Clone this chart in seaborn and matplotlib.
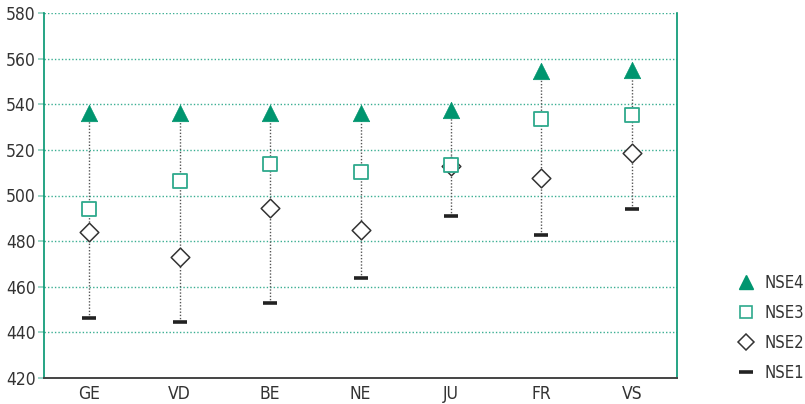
import matplotlib
matplotlib.use('Agg')
import matplotlib.pyplot as plt
import seaborn as sns
from matplotlib.lines import Line2D

# Data
cantons = ['GE', 'VD', 'BE', 'NE', 'JU', 'FR', 'VS']
nse4 = [536, 536, 536, 536, 537.5, 554.5, 555]
nse3 = [494, 506.5, 514, 510.5, 513.5, 533.5, 535.5]
nse2 = [484, 473, 494.5, 485, 513, 507.5, 518.5]
nse1 = [446.5, 444.5, 453, 464, 491, 482.5, 494]

teal = '#00956f'
teal_light = '#2ea98c'
grid_col = '#3aae92'
dark = '#222222'

sns.set_style('white')
plt.rcParams['font.family'] = ['DejaVu Sans']
plt.rcParams['font.stretch'] = 'condensed'

fig = plt.figure(figsize=(8.05, 4.04), dpi=100)
ax = fig.add_axes([44 / 805, 1 - 378 / 404, 633 / 805, 365 / 404])

xs = list(range(len(cantons)))

# vertical dotted range lines
lo = [min(a, b, c, d) for a, b, c, d in zip(nse1, nse2, nse3, nse4)]
hi = [max(a, b, c, d) for a, b, c, d in zip(nse1, nse2, nse3, nse4)]
ax.vlines(xs, lo, hi, colors='#555555', linestyles=(0, (1, 1.3)), linewidth=1, zorder=2)

sns.scatterplot(x=xs, y=nse1, marker='_', s=100, color=dark, linewidth=2.6, ax=ax, zorder=3)
sns.scatterplot(x=xs, y=nse2, marker='D', s=90, facecolor='white', edgecolor='#333333',
                linewidth=1.1, ax=ax, zorder=3)
sns.scatterplot(x=xs, y=nse3, marker='s', s=105, facecolor='white', edgecolor=teal_light,
                linewidth=1.3, ax=ax, zorder=4)
sns.scatterplot(x=xs, y=nse4, marker='^', s=140, color=teal, edgecolor=teal, linewidth=0.5,
                ax=ax, zorder=4)

ax.set_xlim(-0.5, len(cantons) - 0.5)
ax.set_ylim(420, 580)
ax.set_yticks(range(420, 581, 20))
ax.set_xticks(xs)
ax.set_xticklabels(cantons)

for y in range(440, 581, 20):
    ax.axhline(y, color=grid_col, linestyle=(0, (1, 1.5)), linewidth=1, zorder=1)

ax.spines['top'].set_visible(False)
ax.spines['left'].set_color(teal)
ax.spines['right'].set_color(teal)
ax.spines['left'].set_linewidth(1.2)
ax.spines['right'].set_linewidth(1.2)
ax.spines['bottom'].set_color('#444444')
ax.spines['bottom'].set_linewidth(1.4)

ax.tick_params(axis='y', length=4, width=1.2, color='#8fd0bf', labelsize=12.5,
               labelcolor='#333333', pad=2, left=True)
ax.tick_params(axis='x', length=0, labelsize=12.5, labelcolor='#333333', pad=5)

handles = [
    Line2D([], [], marker='^', linestyle='none', markersize=10, color=teal),
    Line2D([], [], marker='s', linestyle='none', markersize=9, markerfacecolor='white',
           markeredgecolor=teal_light, markeredgewidth=1.2),
    Line2D([], [], marker='D', linestyle='none', markersize=8.5, markerfacecolor='white',
           markeredgecolor='#333333', markeredgewidth=1.1),
    Line2D([], [], marker='_', linestyle='none', markersize=10, color=dark, markeredgewidth=2.6),
]
fig.legend(handles, ['NSE4', 'NSE3', 'NSE2', 'NSE1'], loc='upper left',
           bbox_to_anchor=(731 / 805, 1 - 269 / 404), frameon=False, fontsize=12,
           handletextpad=0.5, labelspacing=0.72, handlelength=1.2, labelcolor='#333333',
           borderaxespad=0, borderpad=0.3)

fig.savefig('out.png', dpi=100)
